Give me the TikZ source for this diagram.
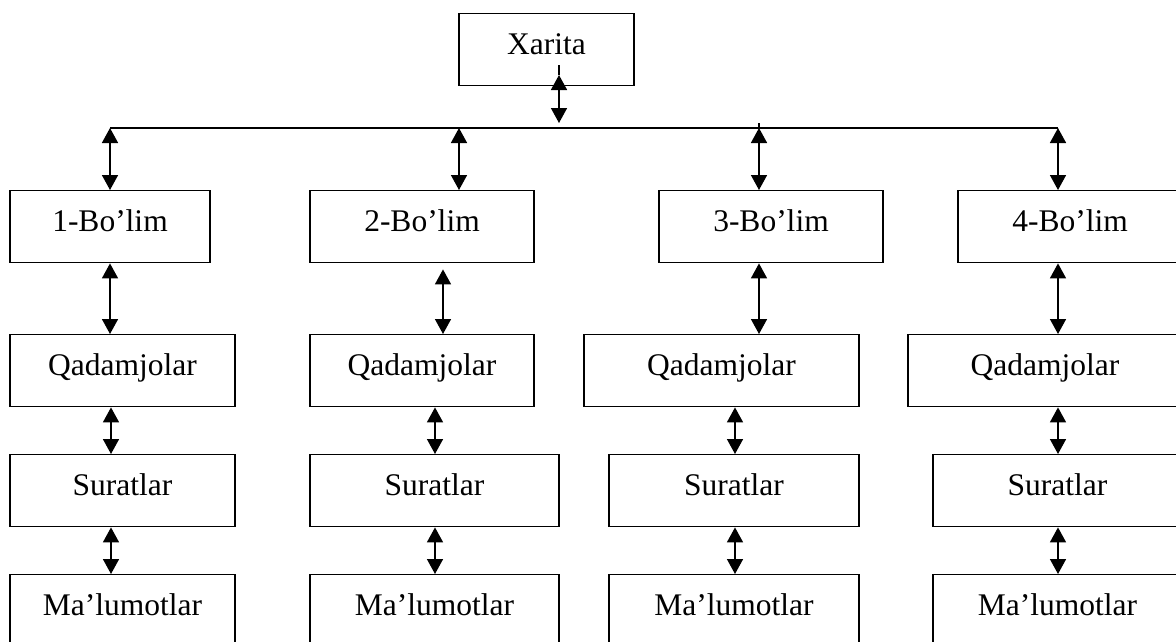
\documentclass[tikz,border=0pt]{standalone}
\usepackage{fontspec}
\setmainfont{Liberation Serif}
\usetikzlibrary{arrows.meta}
\begin{document}
\begin{tikzpicture}[x=1pt,y=-1pt,
  box/.style={draw, line width=1.4pt, inner xsep=0pt, inner ysep=0pt,
    text height=41pt, text depth=31pt, anchor=north,
    font=\fontsize{31.5}{36}\selectfont},
  tip/.tip={Triangle[length=15pt,width=16pt]},
  dbl/.style={line width=1.6pt, tip-tip},
  wire/.style={line width=1.6pt}]
\useasboundingbox (0,0) rectangle (1176,641);
\clip (0,0) rectangle (1176,641);
% top
\node[box, minimum width=175pt] (xr) at (546.5,13) {Xarita};
% row 1
\node[box, minimum width=200pt] (b1) at (110,190) {1-Bo’lim};
\node[box, minimum width=224pt] (b2) at (422,190) {2-Bo’lim};
\node[box, minimum width=224pt] (b3) at (771,190) {3-Bo’lim};
\node[box, minimum width=224pt] (b4) at (1070,190) {4-Bo’lim};
% row 2
\node[box, minimum width=225pt] (q1) at (122.5,334) {Qadamjolar};
\node[box, minimum width=224pt] (q2) at (422,334) {Qadamjolar};
\node[box, minimum width=275pt] (q3) at (721.5,334) {Qadamjolar};
\node[box, minimum width=274pt] (q4) at (1045,334) {Qadamjolar};
% row 3
\node[box, minimum width=225pt] (s1) at (122.5,454) {Suratlar};
\node[box, minimum width=249pt] (s2) at (434.5,454) {Suratlar};
\node[box, minimum width=250pt] (s3) at (734,454) {Suratlar};
\node[box, minimum width=249pt] (s4) at (1057.5,454) {Suratlar};
% row 4
\node[box, minimum width=225pt] (m1) at (122.5,574) {Ma’lumotlar};
\node[box, minimum width=249pt] (m2) at (434.5,574) {Ma’lumotlar};
\node[box, minimum width=250pt] (m3) at (734,574) {Ma’lumotlar};
\node[box, minimum width=249pt] (m4) at (1057.5,574) {Ma’lumotlar};
% connector x positions
\coordinate (d1) at (110,128);
\coordinate (d2) at (459,128);
\coordinate (d3) at (759,128);
\coordinate (d4) at (1058,128);
\coordinate (d3top) at (759,123);
\coordinate (k2) at (443,0);
\coordinate (l1) at (111,0);
\coordinate (l2) at (435,0);
\coordinate (l3) at (735,0);
\coordinate (xa1) at (559,65);
\coordinate (xa2) at (559,75);
\coordinate (xa3) at (559,123);
% Xarita to bus
\draw[wire] (xa1) -- (xa2);
\draw[dbl] (xa2) -- (xa3);
% bus
\draw[wire] (d1) -- (d4);
\draw[wire] (d3top) -- (d3);
% bus to sections
\draw[dbl] (d1) -- (b1.north -| d1);
\draw[dbl] (d2) -- (b2.north -| d2);
\draw[dbl] (d3) -- (b3.north -| d3);
\draw[dbl] (d4) -- (b4.north -| d4);
% sections to Qadamjolar
\draw[dbl] (b1.south -| d1) -- (q1.north -| d1);
\draw[dbl] ([yshift=-6pt]b2.south -| k2) -- (q2.north -| k2);
\draw[dbl] (b3.south -| d3) -- (q3.north -| d3);
\draw[dbl] (b4.south -| d4) -- (q4.north -| d4);
% Qadamjolar to Suratlar
\draw[dbl] (q1.south -| l1) -- (s1.north -| l1);
\draw[dbl] (q2.south -| l2) -- (s2.north -| l2);
\draw[dbl] (q3.south -| l3) -- (s3.north -| l3);
\draw[dbl] (q4.south -| d4) -- (s4.north -| d4);
% Suratlar to Ma'lumotlar
\draw[dbl] (s1.south -| l1) -- (m1.north -| l1);
\draw[dbl] (s2.south -| l2) -- (m2.north -| l2);
\draw[dbl] (s3.south -| l3) -- (m3.north -| l3);
\draw[dbl] (s4.south -| d4) -- (m4.north -| d4);
\end{tikzpicture}
\end{document}
